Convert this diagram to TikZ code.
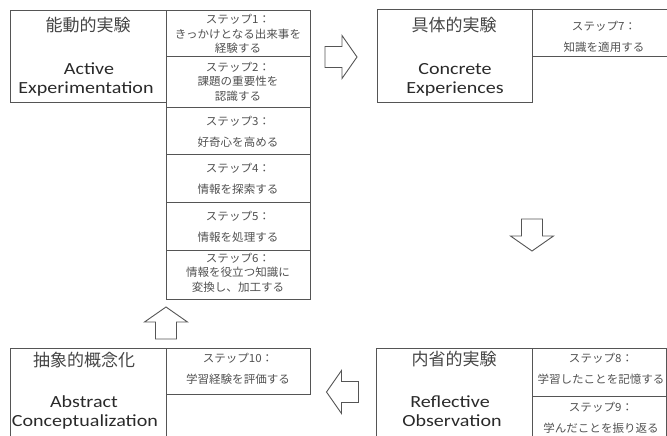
\documentclass[tikz,border=0pt]{standalone}
\usepackage{fontspec}
\setmainfont{Carlito}
\newfontfamily\jpfont{Noto Sans CJK JP}[Scale=1.0]
\definecolor{edgegray}{HTML}{555555}
\definecolor{titlegray}{HTML}{454545}
\definecolor{stepgray}{HTML}{505050}
\definecolor{engblack}{HTML}{2A2A2A}
\begin{document}
\begin{tikzpicture}[x=1pt,y=-1pt,
  frame/.style={draw=edgegray, line width=1pt, rectangle, inner sep=0pt,
    outer sep=0pt, anchor=north west},
  jptitle/.style={inner sep=0pt, text=titlegray,
    font=\jpfont\fontsize{17}{20}\selectfont},
  engtitle/.style={inner sep=0pt, anchor=base, text=engblack, xscale=1.18,
    font=\fontsize{17}{20}\selectfont},
  steptext/.style={inner sep=0pt, align=center, text=stepgray,
    font=\jpfont\fontsize{11.2}{14.5}\selectfont, xscale=1.03},
  steptextwide/.style={steptext, font=\jpfont\fontsize{11.2}{21}\selectfont},
  arrowline/.style={draw=edgegray, line width=0.9pt, fill=white, line join=miter},
  bigarrow/.pic={\draw[arrowline] (-16,-10.5) -- (1,-10.5) -- (1,-21.5)
    -- (16,0) -- (1,21.5) -- (1,10.5) -- (-16,10.5) -- cycle;}]
\useasboundingbox (0,0) rectangle (667,436);
\clip (0,0) rectangle (667,436);

% Active Experimentation with steps 1 to 6
\node[frame, minimum width=156pt, minimum height=91pt] (ae) at (10,11) {};
\node[frame, minimum width=144pt, minimum height=46pt] (s1) at (166,11) {};
\node[frame, minimum width=144pt, minimum height=50pt] (s2) at (166,57) {};
\node[frame, minimum width=144pt, minimum height=47pt] (s3) at (166,107) {};
\node[frame, minimum width=144pt, minimum height=48pt] (s4) at (166,154) {};
\node[frame, minimum width=144pt, minimum height=48pt] (s5) at (166,202) {};
\node[frame, minimum width=144pt, minimum height=49pt] (s6) at (166,250) {};
\node[jptitle] (aeJ) at (88,25.5) {能動的実験};
\node[engtitle] (aeE1) at (89,75) {Active};
\node[engtitle] (aeE2) at (86,94) {Experimentation};
\node[steptext] (s1t) at (238,34) {ステップ1：\\きっかけとなる出来事を\\経験する};
\node[steptext] (s2t) at (238,81.5) {ステップ2：\\課題の重要性を\\認識する};
\node[steptextwide] (s3t) at (238,131.5) {ステップ3：\\好奇心を高める};
\node[steptextwide] (s4t) at (238,178.5) {ステップ4：\\情報を探索する};
\node[steptextwide] (s5t) at (238,226.5) {ステップ5：\\情報を処理する};
\node[steptext] (s6t) at (238,272.5) {ステップ6：\\情報を役立つ知識に\\変換し、加工する};

% Concrete Experiences with step 7
\node[frame, minimum width=155pt, minimum height=92pt] (ce) at (377,10) {};
\node[frame, minimum width=144pt, minimum height=47pt] (s7) at (532,10) {};
\node[jptitle] (ceJ) at (454,25) {具体的実験};
\node[engtitle] (ceE1) at (455,75) {Concrete};
\node[engtitle] (ceE2) at (455,94) {Experiences};
\node[steptextwide] (s7t) at (604,37) {ステップ7：\\知識を適用する};

% Reflective Observation with steps 8 and 9
\node[frame, minimum width=156pt, minimum height=100pt] (ro) at (376,348) {};
\node[frame, minimum width=134pt, minimum height=48pt] (s8) at (532,348) {};
\node[frame, minimum width=134pt, minimum height=52pt] (s9) at (532,396) {};
\node[jptitle] (roJ) at (454,359) {内省的実験};
\node[engtitle] (roE1) at (450,407) {Reflective};
\node[engtitle] (roE2) at (452,426) {Observation};
\node[steptextwide] (s8t) at (601,369) {ステップ8：\\学習したことを記憶する};
\node[steptextwide] (s9t) at (601,417.5) {ステップ9：\\学んだことを振り返る};

% Abstract Conceptualization with step 10
\node[frame, minimum width=156pt, minimum height=100pt] (ac) at (10,348) {};
\node[frame, minimum width=144pt, minimum height=46pt] (s10) at (166,348) {};
\node[jptitle] (acJ) at (84,360) {抽象的概念化};
\node[engtitle] (acE1) at (84,407) {Abstract};
\node[engtitle] (acE2) at (85,426) {Conceptualization};
\node[steptextwide] (s10t) at (238,369) {ステップ10：\\学習経験を評価する};

% Block arrows around the cycle
\pic (toCE) at (341,57) {bigarrow};
\pic[rotate=-90] (toRO) at (532,235) {bigarrow};
\pic[rotate=180] (toAC) at (342.5,392) {bigarrow};
\pic[rotate=90] (toAE) at (166,323) {bigarrow};
\end{tikzpicture}
\end{document}
